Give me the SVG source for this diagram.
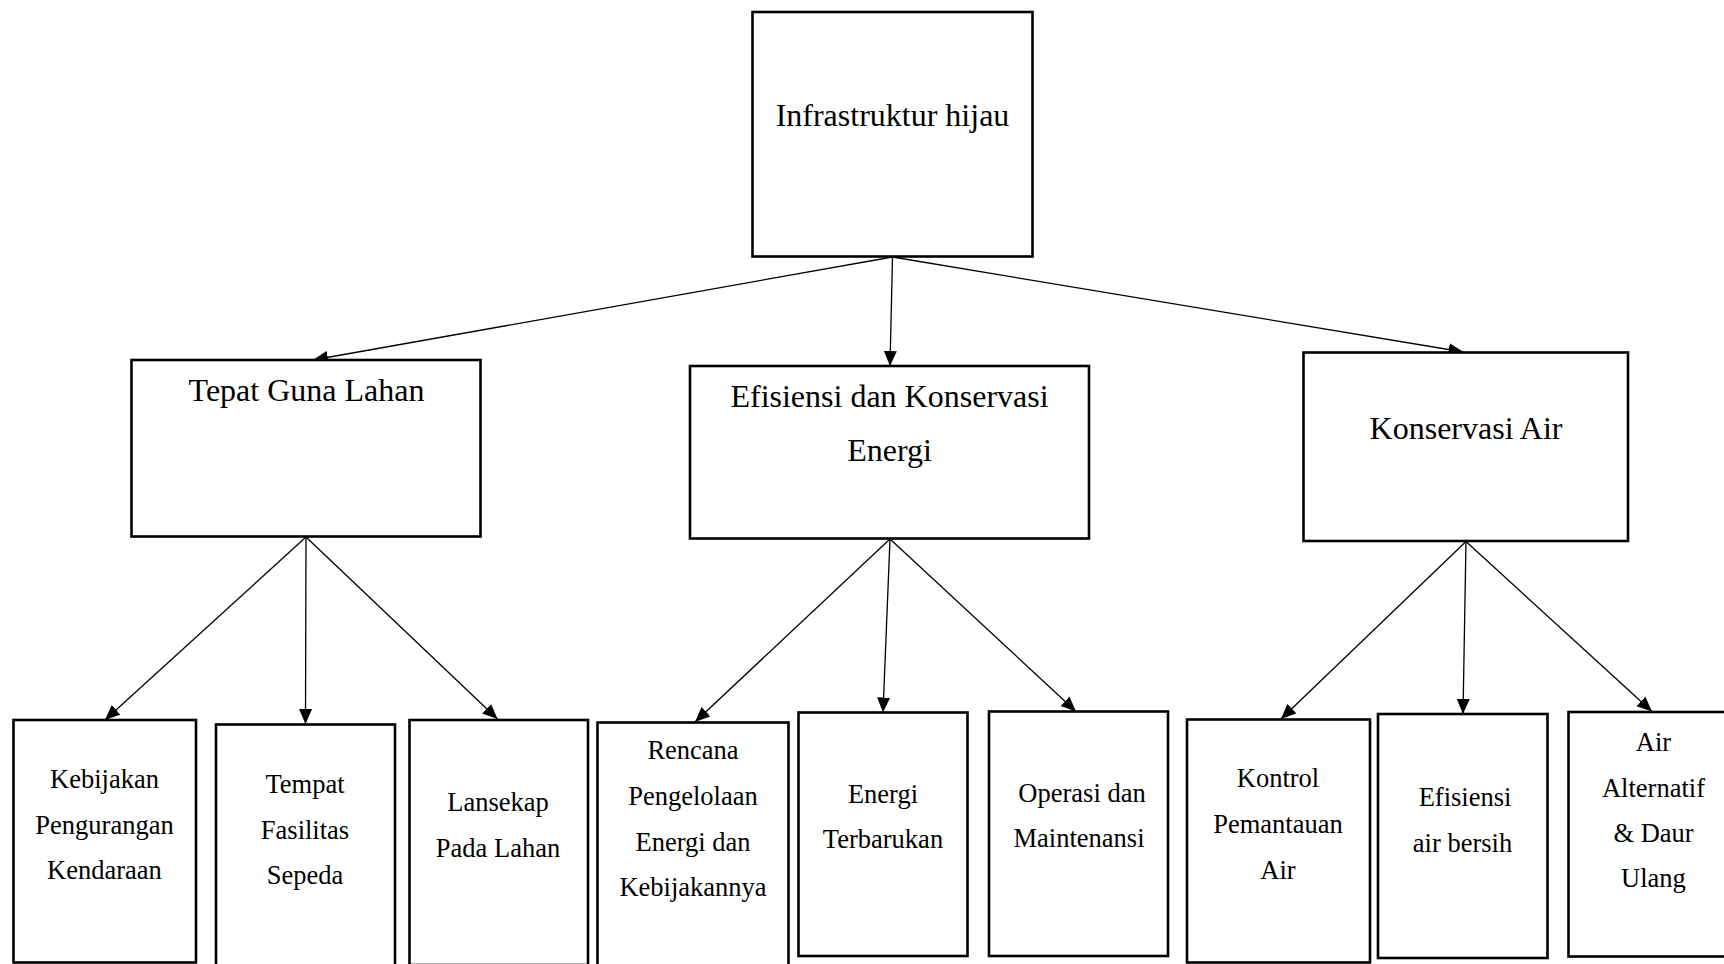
<svg xmlns="http://www.w3.org/2000/svg" width="1724" height="964" viewBox="0 0 1724 964">
<style>
.box{fill:#fff;stroke:#000;stroke-width:2.6}
.t1{font-family:"Liberation Serif","Times New Roman",serif;font-size:32px;fill:#000;text-anchor:middle}
.t2{font-family:"Liberation Serif","Times New Roman",serif;font-size:26.5px;fill:#000;text-anchor:middle}
.conn{fill:none;stroke:#000;stroke-width:1.3;marker-end:url(#arr)}
</style>
<defs>
<marker id="arr" markerUnits="userSpaceOnUse" markerWidth="16" markerHeight="14" refX="15" refY="6.5" orient="auto" viewBox="0 0 16 13">
<path d="M0,0 L15,6.5 L0,13 z" fill="#000"/>
</marker>
</defs>
<rect width="1724" height="964" fill="#fff"/>
<g id="connectors">
<line class="conn" x1="892.5" y1="257" x2="313" y2="360"/>
<line class="conn" x1="892.5" y1="257" x2="890" y2="366"/>
<line class="conn" x1="892.5" y1="257" x2="1463.5" y2="352"/>
<line class="conn" x1="306" y1="537" x2="105" y2="720"/>
<line class="conn" x1="306" y1="537" x2="305.5" y2="724"/>
<line class="conn" x1="306" y1="537" x2="497.5" y2="719"/>
<line class="conn" x1="890" y1="539" x2="695" y2="722"/>
<line class="conn" x1="890" y1="539" x2="883" y2="712.5"/>
<line class="conn" x1="890" y1="539" x2="1076" y2="711.5"/>
<line class="conn" x1="1466" y1="541.5" x2="1281" y2="719"/>
<line class="conn" x1="1466" y1="541.5" x2="1463" y2="714"/>
<line class="conn" x1="1466" y1="541.5" x2="1652" y2="711.5"/>
</g>
<g id="root">
<rect class="box" x="752.5" y="12" width="280" height="244.5"/>
<text class="t1" x="892.5" y="126">Infrastruktur hijau</text>
</g>
<g id="tepat-guna-lahan">
<rect class="box" x="131.5" y="360" width="349" height="176.5"/>
<text class="t1" x="306.5" y="401">Tepat Guna Lahan</text>
</g>
<g id="efisiensi-energi">
<rect class="box" x="690" y="366" width="399" height="172.5"/>
<text class="t1" x="889.5" y="407">Efisiensi dan Konservasi</text>
<text class="t1" x="889.5" y="461">Energi</text>
</g>
<g id="konservasi-air">
<rect class="box" x="1303.5" y="352.5" width="324.5" height="188.5"/>
<text class="t1" x="1466" y="439">Konservasi Air</text>
</g>
<g id="kebijakan">
<rect class="box" x="13.5" y="720" width="182.5" height="242.5"/>
<text class="t2" x="104.5" y="788">Kebijakan</text>
<text class="t2" x="104.5" y="833.5">Pengurangan</text>
<text class="t2" x="104.5" y="879">Kendaraan</text>
</g>
<g id="tempat">
<rect class="box" x="216" y="724.5" width="179" height="250"/>
<text class="t2" x="305" y="793">Tempat</text>
<text class="t2" x="305" y="838.5">Fasilitas</text>
<text class="t2" x="305" y="884">Sepeda</text>
</g>
<g id="lansekap">
<rect class="box" x="409.5" y="720" width="178.5" height="245"/>
<text class="t2" x="498" y="811">Lansekap</text>
<text class="t2" x="498" y="856.5">Pada Lahan</text>
</g>
<g id="rencana">
<rect class="box" x="597.5" y="722.5" width="191" height="252"/>
<text class="t2" x="693" y="758.5">Rencana</text>
<text class="t2" x="693" y="804.5">Pengelolaan</text>
<text class="t2" x="693" y="850.5">Energi dan</text>
<text class="t2" x="693" y="896">Kebijakannya</text>
</g>
<g id="energi-terbarukan">
<rect class="box" x="798.5" y="712.5" width="169" height="243.5"/>
<text class="t2" x="883" y="802.5">Energi</text>
<text class="t2" x="883" y="848">Terbarukan</text>
</g>
<g id="operasi">
<rect class="box" x="989" y="711.5" width="179" height="244.5"/>
<text class="t2" x="1082" y="801.5">Operasi dan</text>
<text class="t2" x="1079" y="847">Maintenansi</text>
</g>
<g id="kontrol">
<rect class="box" x="1187" y="719.5" width="183" height="243"/>
<text class="t2" x="1278" y="787">Kontrol</text>
<text class="t2" x="1278" y="833">Pemantauan</text>
<text class="t2" x="1278" y="879">Air</text>
</g>
<g id="efisiensi-air">
<rect class="box" x="1378" y="714" width="169.5" height="244"/>
<text class="t2" x="1465" y="806">Efisiensi</text>
<text class="t2" x="1462.5" y="851.5">air bersih</text>
</g>
<g id="air-alternatif">
<rect class="box" x="1568.5" y="712" width="172" height="244.5"/>
<text class="t2" x="1653.5" y="750.5">Air</text>
<text class="t2" x="1653.5" y="796.5">Alternatif</text>
<text class="t2" x="1653.5" y="841.5">&amp; Daur</text>
<text class="t2" x="1653.5" y="887">Ulang</text>
</g>
</svg>
